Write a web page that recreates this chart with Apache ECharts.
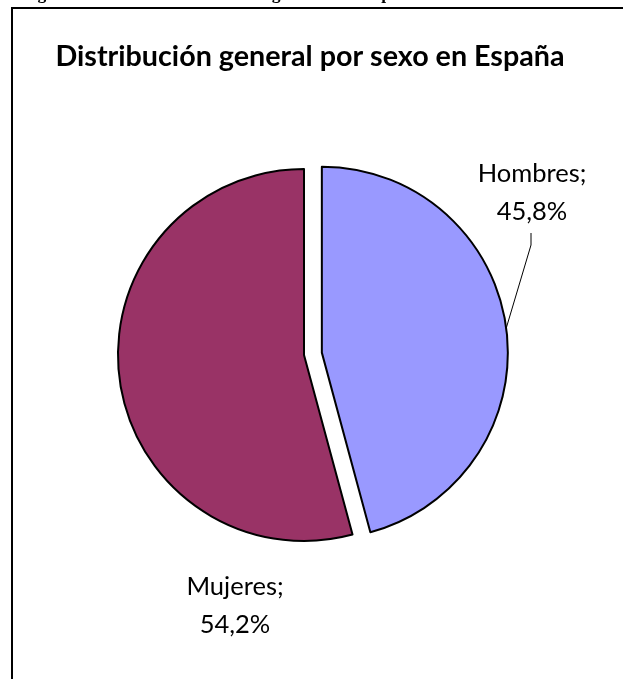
<!DOCTYPE html>
<html><head><meta charset="utf-8">
<script src="https://cdn.jsdelivr.net/npm/echarts@6/dist/echarts.min.js"></script>
<style>html,body{margin:0;padding:0;background:#fff}#c{width:623px;height:679px}</style>
</head><body><div id="c"></div>
<script>
const titleText = 'Distribución general por sexo en España';
const captionText = 'Figura 1. Distribución del total según sexo en España';
const categories = ['Hombres', 'Mujeres'];
const values = [45.8, 54.2];
const colors = ['#9999FF', '#993366'];

const CX = 304, CY = 355, R = 186, OFF = 18;
const total = values.reduce((a, b) => a + b, 0);
const midFrac = (values[0] / 2) / total;
const ang = midFrac * 2 * Math.PI;
const dx = Math.sin(ang), dy = -Math.cos(ang);
const edge = [CX + dx * (OFF + R), CY + dy * (OFF + R)];
const fmt = v => v.toFixed(1).replace('.', ',') + '%';
const labelText = i => categories[i] + ';\n' + fmt(values[i]);
const labelPos = [[532, 193], [235, 606]];
const labelFont = '25.5px Lato';

const chart = echarts.init(document.getElementById('c'));
chart.setOption({
  animation: false,
  title: {
    text: titleText, left: 305, top: 37, textAlign: 'center',
    textStyle: { fontFamily: 'Lato', fontWeight: 'bold', fontSize: 28.7, color: '#000' }
  },
  graphic: [
    { type: 'rect', shape: { x: 12, y: 8, width: 700, height: 800 }, style: { fill: 'none', stroke: '#000', lineWidth: 2 }, silent: true },
    { type: 'text', x: 22, y: -6, style: { text: captionText, font: 'bold 17.5px "Liberation Serif"', fill: '#000', verticalAlign: 'middle' }, silent: true },
    { type: 'polyline', shape: { points: [edge, [531, 245], [531, 233]] }, style: { stroke: '#000', lineWidth: 1, fill: 'none' }, silent: true }
  ].concat(categories.map((c, i) => ({
    type: 'text', x: labelPos[i][0], y: labelPos[i][1], silent: true,
    style: { text: labelText(i), font: labelFont, fill: '#000', align: 'center', verticalAlign: 'middle', lineHeight: 38 }
  }))),
  series: [{
    type: 'pie',
    center: [CX, CY],
    radius: R,
    startAngle: 90,
    clockwise: true,
    selectedMode: 'single',
    selectedOffset: OFF,
    itemStyle: { borderColor: '#000', borderWidth: 2 },
    label: { show: false },
    labelLine: { show: false },
    data: categories.map((c, i) => ({
      name: c, value: values[i], selected: i === 0,
      itemStyle: { color: colors[i] }
    }))
  }]
});
</script></body></html>
